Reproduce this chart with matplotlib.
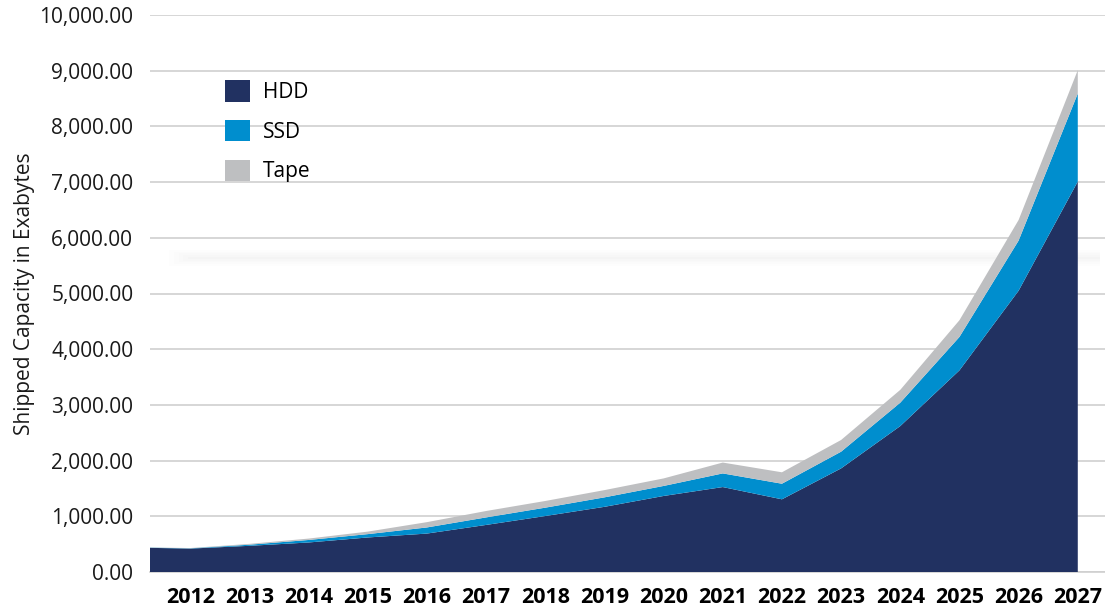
import numpy as np
import matplotlib
matplotlib.use('Agg')
import matplotlib.pyplot as plt
from matplotlib.patches import Patch
from matplotlib.ticker import FuncFormatter

###Data (shipped capacity, exabytes)
years = [2011, 2012, 2013, 2014, 2015, 2016, 2017, 2018, 2019,
         2020, 2021, 2022, 2023, 2024, 2025, 2026, 2027]
hdd = [440, 420, 470, 530, 620, 690, 845, 1005, 1170,
       1365, 1525, 1305, 1860, 2620, 3620, 5050, 7010]
ssd = [3, 5, 20, 45, 60, 110, 135, 150, 170,
       180, 245, 280, 300, 420, 600, 900, 1580]
tape = [3, 5, 15, 25, 45, 95, 115, 120, 130,
        135, 195, 205, 210, 230, 300, 370, 420]
tick_years = list(range(2012, 2028))
series_names = ['HDD', 'SSD', 'Tape']

#Colors
col = ['#213161', '#008ECE', '#BEBFC1']

plt.rcParams['font.family'] = ['Open Sans', 'DejaVu Sans']

fig = plt.figure(figsize=(11.05, 6.09), dpi=100)
ax = fig.add_axes([150/1105, 1-572/609, 1-150/1105, (572-15)/609])

#Stacked areas
ax.stackplot(years, hdd, ssd, tape, colors=col, linewidth=0, zorder=3)

#Faint band behind the areas
for k, a in enumerate([0.012, 0.012, 0.015, 0.015, 0.018]):
    ax.axhspan(5500+k*30, 5780-k*30, xmin=0.02+k*0.005, xmax=0.995,
               color='#808080', alpha=a, lw=0, zorder=1)

#Axis settings
ax.set_xlim(2011.32, 2027.46)
ax.set_ylim(0, 10000)
ax.set_yticks(np.arange(0, 10001, 1000))
ax.yaxis.set_major_formatter(FuncFormatter(lambda v, p: '{:,.2f}'.format(v)))
ax.set_xticks(tick_years)
ax.set_xticklabels([str(y) for y in tick_years], fontweight='bold', fontsize=15.5)
ax.tick_params(axis='x', length=0, pad=11, colors='black')
ax.tick_params(axis='y', length=0, pad=12, labelsize=15, colors='#1a1a1a')
ax.grid(axis='y', color='#CFCFCF', linewidth=1.2, zorder=0)
ax.set_axisbelow(True)
for s in ['top', 'right', 'left']:
    ax.spines[s].set_visible(False)
ax.spines['bottom'].set_color('#CFCFCF')
ax.spines['bottom'].set_linewidth(1.2)

ax.set_ylabel('Shipped Capacity in Exabytes', fontsize=15, color='#1a1a1a', labelpad=3)

#Legend
handles = [Patch(facecolor=c, edgecolor='none', label=n) for c, n in zip(col, series_names)]
ax.legend(handles=handles, loc='upper left', bbox_to_anchor=(0.07, 0.898),
          frameon=False, fontsize=15, handlelength=1.2, handleheight=1.2,
          labelspacing=0.82, handletextpad=0.6, borderaxespad=0)

plt.savefig('out.png', dpi=100)
